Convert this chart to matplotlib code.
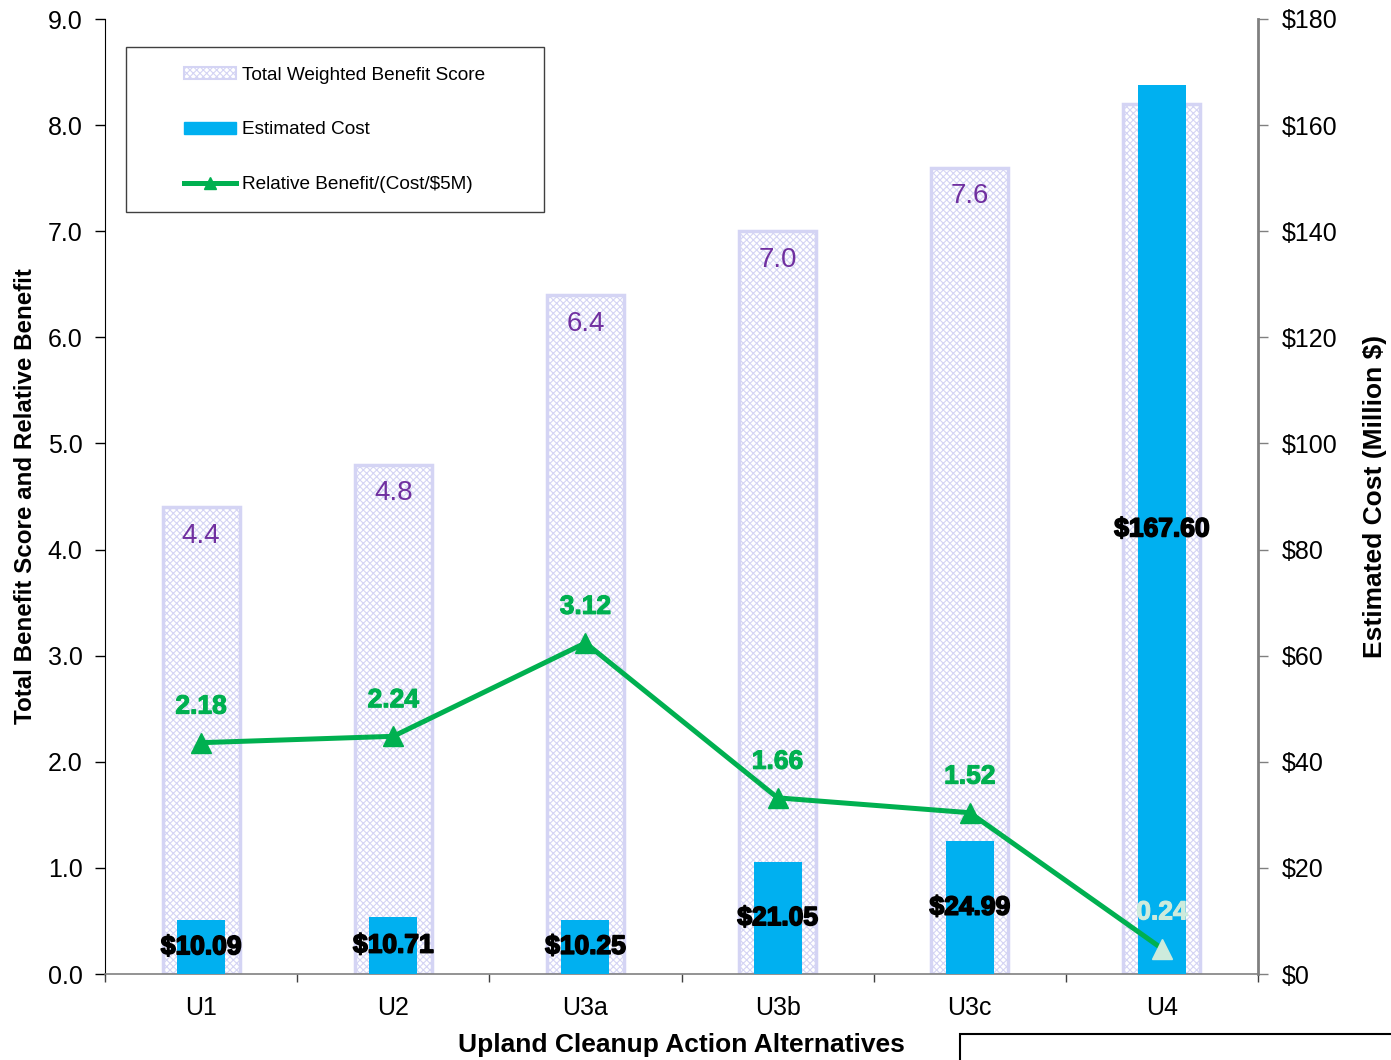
import matplotlib
matplotlib.use("Agg")
import matplotlib.pyplot as plt
from matplotlib.patches import Rectangle, Patch
from matplotlib.lines import Line2D
import matplotlib.patheffects as pe
import numpy as np

plt.rcParams['font.family'] = ['Liberation Sans', 'DejaVu Sans']
plt.rcParams['hatch.linewidth'] = 0.8

categories = ["U1", "U2", "U3a", "U3b", "U3c", "U4"]
benefit_score = [4.4, 4.8, 6.4, 7.0, 7.6, 8.2]
estimated_cost = [10.09, 10.71, 10.25, 21.05, 24.99, 167.60]
relative_benefit = [2.18, 2.24, 3.12, 1.66, 1.52, 0.24]

BLUE = "#00B0F0"
GREEN = "#00B050"
LAVENDER = "#D4D4F4"
PURPLE = "#7030A0"
PALE = "#CDEBDC"

W, H = 1391, 1060
fig = plt.figure(figsize=(W / 100, H / 100), dpi=100)
L, R, T, B = 105, 1258, 19, 974
rect = [L / W, 1 - B / H, (R - L) / W, (B - T) / H]


def ax_frac(px, py):
    return (px - L) / (R - L), (B - py) / (B - T)


ax = fig.add_axes(rect)
x = np.arange(len(categories))

# benefit bars (hatched, left axis)
ax.bar(x, benefit_score, width=0.40, facecolor="white", edgecolor=LAVENDER,
       hatch="xxxxx", linewidth=2.5, zorder=2)
ax.set_ylim(0, 9)
ax.set_xlim(-0.5, len(categories) - 0.5)
yt = np.arange(0, 9.01, 1.0)
ax.set_yticks(yt)
ax.set_yticklabels([f"{v:.1f}" for v in yt])
ax.set_xticks(x)
ax.set_xticklabels(categories)
ax.set_xticks(np.arange(-0.5, len(categories)), minor=True)
ax.tick_params(axis="x", which="major", length=0, pad=16, labelsize=18)
ax.tick_params(axis="x", which="minor", length=6, width=1, color="#404040")
ax.tick_params(axis="y", which="major", length=7.2, width=1, labelsize=18, pad=9)
for s in ["top", "right"]:
    ax.spines[s].set_visible(False)
ax.spines["left"].set_color("#000000")
ax.spines["bottom"].set_color("#808080")
ax.spines["bottom"].set_linewidth(1.2)
ax.set_ylabel("Total Benefit Score and Relative Benefit", fontsize=17.4,
              fontweight="bold", labelpad=8)
ax.set_xlabel("Upland Cleanup Action Alternatives", fontsize=19,
              fontweight="bold", labelpad=9.5)

for xi, v in zip(x, benefit_score):
    ax.text(xi, v - 0.27, f"{v:.1f}", ha="center", va="center", color=PURPLE,
            fontsize=20, zorder=5)

# cost bars (right axis)
ax2 = ax.twinx()
ax2.bar(x, estimated_cost, width=0.25, color=BLUE, zorder=2)
ax2.set_ylim(0, 180)
ct = np.arange(0, 181, 20)
ax2.set_yticks(ct)
ax2.set_yticklabels([f"${v}" for v in ct])
ax2.tick_params(axis="y", length=7.2, width=1, labelsize=18, pad=10, color="#808080")
for s in ["top", "left", "bottom"]:
    ax2.spines[s].set_visible(False)
ax2.spines["right"].set_color("#808080")
ax2.spines["right"].set_linewidth(2)
ax2.set_ylabel("Estimated Cost (Million $)", fontsize=19, fontweight="bold",
               labelpad=18)
for xi, v in zip(x, estimated_cost):
    ax2.text(xi, v / 2, f"${v:.2f}", ha="center", va="center", color="black",
             fontsize=19, fontweight="bold", zorder=5,
             path_effects=[pe.withStroke(linewidth=1.2, foreground="black")])

# relative benefit line on top, sharing the left scale
ax3 = fig.add_axes(rect, sharex=ax, sharey=ax)
ax3.patch.set_visible(False)
ax3.axis("off")
ax3.plot(x, relative_benefit, color=GREEN, linewidth=3.6, zorder=3)
ax3.plot(x[:-1], relative_benefit[:-1], linestyle="none", marker="^",
         markersize=14, color=GREEN, zorder=4)
ax3.plot(x[-1:], relative_benefit[-1:], linestyle="none", marker="^",
         markersize=14, color=PALE, zorder=4)
for i, (xi, v) in enumerate(zip(x, relative_benefit)):
    c = PALE if i == len(x) - 1 else GREEN
    ax3.text(xi, v + 0.34, f"{v:.2f}", ha="center", va="center", color=c,
             fontsize=19, fontweight="bold", zorder=5,
             path_effects=[pe.withStroke(linewidth=0.8, foreground=c)])

# legend: frameless entries inside a drawn box
handles = [
    Patch(facecolor="white", edgecolor=LAVENDER, hatch="xxxxx", linewidth=1.5),
    Patch(facecolor=BLUE, edgecolor=BLUE),
    Line2D([0], [0], color=GREEN, linewidth=3.6, marker="^", markersize=9),
]
labels = ["Total Weighted Benefit Score", "Estimated Cost", "Relative Benefit/(Cost/$5M)"]
leg = ax3.legend(handles, labels, loc="upper left",
                 bbox_to_anchor=ax_frac(184, 67),
                 fontsize=13.7, frameon=False, handlelength=2.73,
                 handleheight=0.6, labelspacing=1.97, borderpad=0,
                 handletextpad=0.32, borderaxespad=0)
bx0, by0 = ax_frac(126, 212)
bx1, by1 = ax_frac(544, 47)
ax3.add_patch(Rectangle((bx0, by0), bx1 - bx0, by1 - by0, transform=ax3.transAxes,
                        fill=False, edgecolor="#404040", linewidth=1.0, zorder=6,
                        clip_on=False))

# framed box at the lower right corner
fig.patches.append(Rectangle((960 / W, -0.05), 0.5, (1060 - 1034) / H + 0.05,
                             transform=fig.transFigure, fill=False,
                             edgecolor="black", linewidth=1.5))

fig.savefig("out.png", dpi=100)
